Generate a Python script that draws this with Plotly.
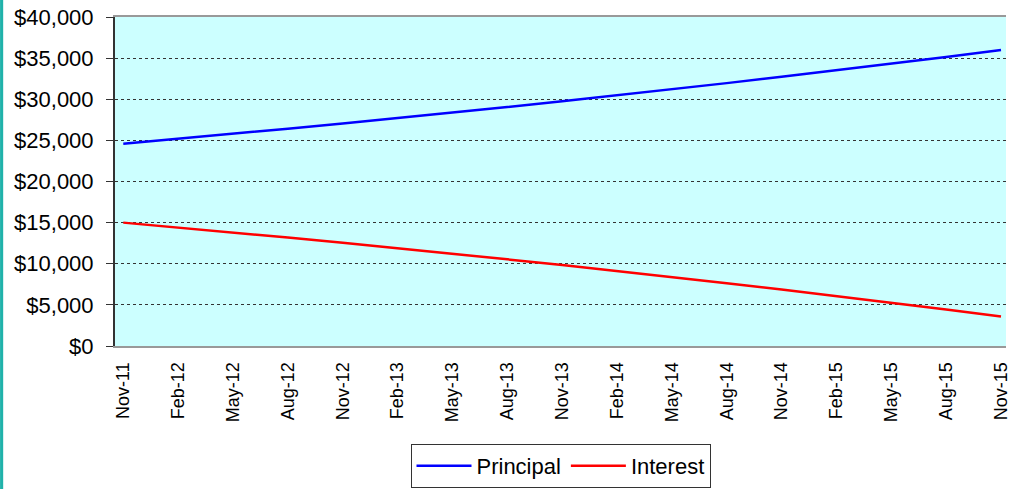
import plotly.graph_objects as go

# Quarterly dates (tick labels) and values
months = ["Nov-11", "Feb-12", "May-12", "Aug-12", "Nov-12", "Feb-13", "May-13", "Aug-13",
          "Nov-13", "Feb-14", "May-14", "Aug-14", "Nov-14", "Feb-15", "May-15", "Aug-15", "Nov-15"]
principal = [24600, 25190, 25800, 26420, 27060, 27710, 28370, 29060, 29760,
             30470, 31210, 31960, 32730, 33520, 34330, 35150, 36000]
interest = [15000, 14410, 13800, 13180, 12540, 11890, 11230, 10540, 9840,
            9130, 8390, 7640, 6870, 6080, 5270, 4450, 3600]
y_ticks = [0, 5000, 10000, 15000, 20000, 25000, 30000, 35000, 40000]

idx = list(range(len(months)))
FONT = "Liberation Sans, Arial, sans-serif"

fig = go.Figure()
fig.add_trace(go.Scatter(x=idx, y=principal, mode="lines", name="Principal",
                         line=dict(color="#0000FF", width=2.5)))
fig.add_trace(go.Scatter(x=idx, y=interest, mode="lines", name="Interest",
                         line=dict(color="#FF0000", width=2.5)))

fig.update_layout(
    width=1020, height=489,
    margin=dict(l=115, r=14, t=17, b=143, autoexpand=False),
    paper_bgcolor="white",
    plot_bgcolor="#CCFFFF",
    font=dict(family=FONT, color="black"),
    showlegend=True,
    legend=dict(orientation="h", x=0.5, xanchor="center", y=-0.298, yanchor="top",
                bordercolor="#333333", borderwidth=1, bgcolor="white",
                font=dict(size=22, family=FONT), itemwidth=55,
                valign="middle"),
    xaxis=dict(
        range=[-0.151, 16.091], automargin=False,
        tickmode="array", tickvals=idx, ticktext=months,
        tickangle=-90, tickfont=dict(size=18, family=FONT),
        showgrid=False, zeroline=False,
        showline=True, linecolor="#999999", linewidth=2, mirror=True,
        ticks="", ticklabelstandoff=7,
    ),
    yaxis=dict(
        range=[0, 40000], automargin=False,
        tickmode="array", tickvals=y_ticks,
        ticktext=["${:,}".format(v) for v in y_ticks],
        tickfont=dict(size=22, family=FONT),
        showgrid=True, gridcolor="#333333", gridwidth=1, griddash="dot",
        zeroline=False,
        showline=True, linecolor="#333333", linewidth=2, mirror=False,
        ticks="outside", ticklen=7, tickcolor="#333333", tickwidth=1,
        ticklabelstandoff=8,
    ),
    shapes=[dict(type="rect", xref="paper", yref="paper",
                 x0=-0.129, x1=-0.1255, y0=-0.435, y1=1.052,
                 fillcolor="#20B2AA", line=dict(width=0), layer="above")],
)

fig.write_html("out.html", config={"displayModeBar": False},
               post_script="document.body.style.margin='0px';document.body.style.overflow='hidden';")
